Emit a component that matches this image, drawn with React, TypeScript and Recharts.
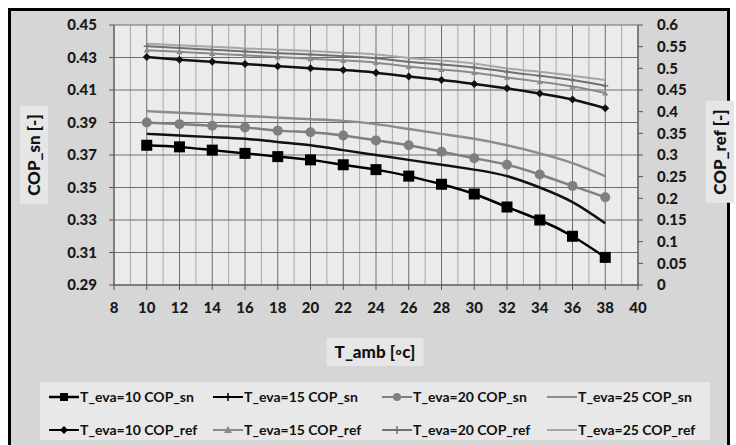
import React from 'react';
import { LineChart, Line, XAxis, YAxis, CartesianGrid } from 'recharts';

// ambient temperature (°C)
const tAmb = [10, 12, 14, 16, 18, 20, 22, 24, 26, 28, 30, 32, 34, 36, 38];

// COP_sn per evaporator temperature (left axis)
const copSn10 = [0.376, 0.375, 0.373, 0.371, 0.369, 0.367, 0.364, 0.361, 0.357, 0.352, 0.346, 0.338, 0.330, 0.320, 0.307];
const copSn15 = [0.383, 0.382, 0.381, 0.380, 0.378, 0.376, 0.373, 0.370, 0.367, 0.364, 0.361, 0.357, 0.350, 0.341, 0.328];
const copSn20 = [0.390, 0.389, 0.388, 0.387, 0.385, 0.384, 0.382, 0.379, 0.376, 0.372, 0.368, 0.364, 0.358, 0.351, 0.344];
const copSn25 = [0.397, 0.396, 0.395, 0.394, 0.393, 0.392, 0.391, 0.389, 0.386, 0.383, 0.380, 0.376, 0.371, 0.365, 0.357];

// COP_ref per evaporator temperature (right axis)
const copRef10 = [0.526, 0.520, 0.515, 0.510, 0.505, 0.500, 0.496, 0.490, 0.481, 0.473, 0.464, 0.454, 0.442, 0.428, 0.408];
const copRef15 = [0.542, 0.538, 0.534, 0.530, 0.526, 0.522, 0.518, 0.513, 0.504, 0.497, 0.490, 0.479, 0.469, 0.458, 0.443];
const copRef20 = [0.551, 0.547, 0.543, 0.539, 0.535, 0.532, 0.528, 0.523, 0.515, 0.509, 0.502, 0.492, 0.483, 0.473, 0.460];
const copRef25 = [0.557, 0.553, 0.550, 0.546, 0.543, 0.540, 0.536, 0.532, 0.524, 0.518, 0.511, 0.500, 0.492, 0.483, 0.473];

const xTicks = [8, 10, 12, 14, 16, 18, 20, 22, 24, 26, 28, 30, 32, 34, 36, 38, 40];
const xMinor = [9, 11, 13, 15, 17, 19, 21, 23, 25, 27, 29, 31, 33, 35, 37, 39];
const snTicks = [0.29, 0.31, 0.33, 0.35, 0.37, 0.39, 0.41, 0.43, 0.45];
const refTicks = [0, 0.05, 0.1, 0.15, 0.2, 0.25, 0.3, 0.35, 0.4, 0.45, 0.5, 0.55, 0.6];

const data = tAmb.map((t, i) => ({
  t,
  sn10: copSn10[i],
  sn15: copSn15[i],
  sn20: copSn20[i],
  sn25: copSn25[i],
  ref10: copRef10[i],
  ref15: copRef15[i],
  ref20: copRef20[i],
  ref25: copRef25[i],
}));

const FONT = 'Lato, "Open Sans", sans-serif';
const tickStyle = { fontFamily: FONT, fontSize: 15, fontWeight: 900, fill: '#1a1a1a' };

type DotProps = { cx?: number; cy?: number; index?: number };

const Square = (color: string, s: number) => (p: DotProps) =>
  <rect key={`sq${p.index}`} x={(p.cx ?? 0) - s / 2} y={(p.cy ?? 0) - s / 2} width={s} height={s} fill={color} />;

const Diamond = (color: string, s: number) => (p: DotProps) => {
  const { cx = 0, cy = 0 } = p;
  return <polygon key={`dm${p.index}`} points={`${cx},${cy - s} ${cx + s},${cy} ${cx},${cy + s} ${cx - s},${cy}`} fill={color} />;
};

const Triangle = (color: string, s: number) => (p: DotProps) => {
  const { cx = 0, cy = 0 } = p;
  return <polygon key={`tr${p.index}`} points={`${cx},${cy - s} ${cx + s},${cy + s * 0.8} ${cx - s},${cy + s * 0.8}`} fill={color} />;
};

const Plus = (color: string, s: number) => (p: DotProps) => {
  const { cx = 0, cy = 0 } = p;
  return (
    <path key={`pl${p.index}`} d={`M${cx - s},${cy}H${cx + s}M${cx},${cy - s}V${cy + s}`} stroke={color} strokeWidth={1.5} />
  );
};

type Entry = { label: string; color: string; width: number; marker: string };

const legendRows: Entry[][] = [
  [
    { label: 'T_eva=10 COP_sn', color: '#000', width: 2.5, marker: 'square' },
    { label: 'T_eva=15 COP_sn', color: '#000', width: 2, marker: 'plus' },
    { label: 'T_eva=20 COP_sn', color: '#7f7f7f', width: 2, marker: 'circle' },
    { label: 'T_eva=25 COP_sn', color: '#8c8c8c', width: 2, marker: 'none' },
  ],
  [
    { label: 'T_eva=10 COP_ref', color: '#000', width: 2, marker: 'diamond' },
    { label: 'T_eva=15 COP_ref', color: '#8a8a8a', width: 2, marker: 'triangle' },
    { label: 'T_eva=20 COP_ref', color: '#707070', width: 2, marker: 'plus' },
    { label: 'T_eva=25 COP_ref', color: '#a6a6a6', width: 2, marker: 'none' },
  ],
];

const legendCols = [48, 212, 381, 546];

function LegendMarker({ e }: { e: Entry }) {
  const c = 16, m = 7;
  return (
    <svg width={32} height={14} style={{ display: 'block' }}>
      <line x1={1} y1={m} x2={31} y2={m} stroke={e.color} strokeWidth={e.width} />
      {e.marker === 'square' && <rect x={c - 4} y={m - 4} width={8} height={8} fill={e.color} />}
      {e.marker === 'circle' && <circle cx={c} cy={m} r={4} fill={e.color} />}
      {e.marker === 'diamond' && <polygon points={`${c},${m - 4} ${c + 4},${m} ${c},${m + 4} ${c - 4},${m}`} fill={e.color} />}
      {e.marker === 'triangle' && <polygon points={`${c},${m - 4} ${c + 4},${m + 3} ${c - 4},${m + 3}`} fill={e.color} />}
      {e.marker === 'plus' && <path d={`M${c - 4},${m}H${c + 4}M${c},${m - 4}V${m + 4}`} stroke={e.color} strokeWidth={1.5} />}
    </svg>
  );
}

const titleBox: React.CSSProperties = {
  position: 'absolute',
  background: '#e6e6e6',
  fontFamily: FONT,
  fontWeight: 900,
  fontSize: 17,
  color: '#111',
  whiteSpace: 'nowrap',
  lineHeight: '28px',
  padding: '0 8px',
};

export default function App() {
  return (
    <div style={{ position: 'absolute', left: 0, top: 0, width: 736, height: 445, background: '#fff', overflow: 'hidden' }}>
      <div
        style={{
          position: 'absolute', left: 8, top: 8, width: 716, height: 450,
          border: '3px solid #000', background: '#d6d6d6',
        }}
      />
      <div style={{ position: 'absolute', left: 0, top: 0 }}>
        <LineChart width={736} height={445} data={data} margin={{ top: 25, right: 20, bottom: 130, left: 14 }}>
          <CartesianGrid yAxisId="sn" horizontal={false} verticalValues={xMinor} stroke="#a8a8a8" fill="#ebebeb" />
          <CartesianGrid yAxisId="sn" stroke="#6e6e6e" />
          <XAxis
            dataKey="t"
            type="number"
            domain={[8, 40]}
            ticks={xTicks}
            interval={0}
            height={30}
            tick={tickStyle}
            tickSize={5}
            tickMargin={12}
            stroke="#555"
          />
          <YAxis
            yAxisId="sn"
            domain={[0.29, 0.45]}
            ticks={snTicks}
            interval={0}
            width={100}
            tick={tickStyle}
            tickSize={5}
            tickMargin={12}
            tickFormatter={(v: number) => v.toFixed(2)}
            stroke="#555"
          />
          <YAxis
            yAxisId="ref"
            orientation="right"
            domain={[0, 0.6]}
            ticks={refTicks}
            interval={0}
            width={78}
            tick={{ ...tickStyle, textAnchor: 'start' }}
            tickSize={5}
            tickMargin={14}
            tickFormatter={(v: number) => String(Number(v.toFixed(2)))}
            stroke="#555"
          />

          <Line yAxisId="ref" type="natural" dataKey="ref25" stroke="#a6a6a6" strokeWidth={2} dot={false} isAnimationActive={false} />
          <Line yAxisId="ref" type="natural" dataKey="ref20" stroke="#707070" strokeWidth={2} dot={Plus('#707070', 3)} isAnimationActive={false} />
          <Line yAxisId="ref" type="natural" dataKey="ref15" stroke="#8a8a8a" strokeWidth={2} dot={Triangle('#8a8a8a', 3)} isAnimationActive={false} />
          <Line yAxisId="ref" type="natural" dataKey="ref10" stroke="#111" strokeWidth={2.5} dot={Diamond('#111', 4)} isAnimationActive={false} />

          <Line yAxisId="sn" type="natural" dataKey="sn25" stroke="#8c8c8c" strokeWidth={2.5} dot={false} isAnimationActive={false} />
          <Line yAxisId="sn" type="natural" dataKey="sn20" stroke="#7f7f7f" strokeWidth={2.5} dot={{ r: 5, fill: '#7f7f7f', stroke: 'none' }} isAnimationActive={false} />
          <Line yAxisId="sn" type="natural" dataKey="sn15" stroke="#111" strokeWidth={2.5} dot={false} isAnimationActive={false} />
          <Line yAxisId="sn" type="natural" dataKey="sn10" stroke="#000" strokeWidth={2.5} dot={Square('#000', 11)} isAnimationActive={false} />
        </LineChart>
      </div>

      <div style={{ ...titleBox, left: 34, top: 155, transform: 'translate(-50%, -50%) rotate(-90deg)' }}>COP_sn [-]</div>
      <div style={{ ...titleBox, left: 720, top: 152, transform: 'translate(-50%, -50%) rotate(-90deg)' }}>COP_ref [-]</div>
      <div style={{ ...titleBox, left: 375, top: 352, transform: 'translate(-50%, -50%)' }}>T_amb [◦c]</div>

      <div style={{ position: 'absolute', left: 40, top: 382, width: 670, height: 58, background: '#e8e8e8' }} />
      {legendRows.map((row, r) =>
        row.map((e, c) => (
          <div
            key={`${r}-${c}`}
            style={{
              position: 'absolute', left: legendCols[c], top: 388 + r * 33, display: 'flex', alignItems: 'center',
              fontFamily: FONT, fontWeight: 700, fontSize: 14, color: '#111', whiteSpace: 'nowrap',
            }}
          >
            <LegendMarker e={e} />
            <span>{e.label}</span>
          </div>
        )),
      )}
    </div>
  );
}
